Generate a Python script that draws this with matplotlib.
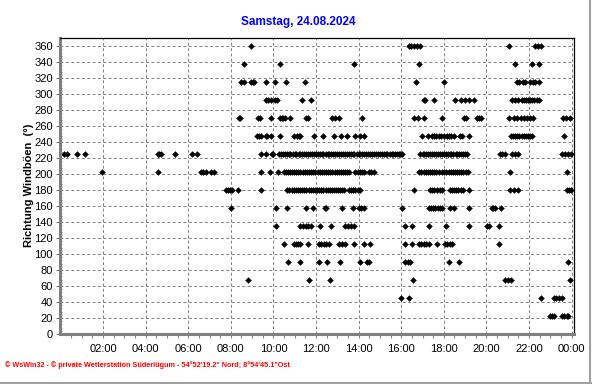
import numpy as np
import matplotlib.pyplot as plt
from matplotlib.lines import Line2D

# gust direction (deg) -> times of day (hours)
t_360 = [8.94, 16.35, 16.45, 16.6, 16.75, 16.88, 21.04, 22.29, 22.42, 22.55]
t_338 = [8.61, 10.3, 13.77, 16.82, 21.32, 22.16, 22.48]
t_315 = [8.5, 8.6, 8.95, 9.02, 9.1, 9.66, 10.07, 10.58, 11.5, 16.69, 18.02,
         21.43, 21.55, 21.7, 21.82, 22.05, 22.18, 22.3, 22.45]
t_292 = [9.63, 9.75, 9.9, 10.05, 10.15, 11.33, 11.77, 17.05, 17.13, 17.52,
         18.54, 18.8, 19.0, 19.2, 19.4, 21.2, 21.35, 21.5, 21.65, 21.75,
         21.85, 21.95, 22.05, 22.15, 22.25, 22.35, 22.45]
t_270 = [8.38, 8.45, 9.29, 9.35, 9.9, 10.3, 10.38, 10.45, 10.52, 10.8,
         11.54, 11.62, 12.76, 12.9, 13.07, 14.16, 16.58, 16.77, 17.05, 17.91,
         18.93, 19.05, 19.55, 19.65, 19.75, 21.04, 21.3, 21.45, 21.6, 21.75,
         21.9, 22.05, 22.2, 23.6, 23.75, 23.92]
t_248 = [9.24, 9.32, 9.4, 9.63, 9.72, 9.9, 10.33, 10.96, 11.1, 11.22, 11.27,
         11.89, 12.32, 12.83, 13.15, 13.46, 13.85, 14.05, 14.25, 16.97, 17.24,
         17.44, 17.55, 17.65, 17.75, 17.88, 17.99, 18.15, 18.25, 18.35, 18.46,
         18.78, 18.85, 19.16, 21.15, 21.25, 21.35, 21.45, 21.55, 21.65, 21.75,
         21.85, 21.95, 22.05, 22.13, 23.65]
t_225 = [0.17, 0.3, 0.8, 1.16, 4.58, 4.65, 4.72, 5.36, 6.19, 6.43, 9.4,
         9.64, 9.92, 10.0,
         10.25, 10.35, 10.45, 10.55, 10.62, 10.72, 10.8, 10.9, 11.0, 11.08,
         11.18, 11.27, 11.35, 11.45, 11.55, 11.62, 11.72, 11.8, 11.9, 12.0,
         12.08, 12.18, 12.27, 12.35, 12.45, 12.55, 12.62, 12.72, 12.8, 12.9,
         13.0, 13.08, 13.18, 13.27, 13.35, 13.45, 13.55, 13.62, 13.72, 13.8,
         13.9, 14.0, 14.08, 14.18, 14.27, 14.35, 14.45, 14.55, 14.62, 14.72,
         14.8, 14.9, 15.0, 15.08, 15.18, 15.27, 15.35, 15.45, 15.55, 15.62,
         15.72, 15.8, 15.88, 15.95, 16.02,
         16.9, 17.0, 17.08, 17.18, 17.27, 17.35, 17.45, 17.55, 17.62, 17.72,
         17.8, 17.9, 18.0, 18.08, 18.18, 18.27, 18.35, 18.45, 18.55, 18.62,
         18.72, 18.8, 18.9, 19.0, 19.08,
         20.65, 20.75, 20.85, 21.2, 21.35, 21.5, 23.54, 23.7, 23.85, 23.95]
t_202 = [1.97, 4.58, 6.61, 6.7, 6.85, 7.05, 7.2, 9.4, 9.86, 10.2,
         10.49, 10.58, 10.68, 10.78, 10.88, 10.97, 11.07, 11.17, 11.27, 11.37,
         11.47, 11.57, 11.67, 11.77, 11.87, 11.97, 12.07, 12.17, 12.27, 12.37,
         12.47, 12.57, 12.67, 12.77, 12.87, 12.97, 13.07, 13.17, 13.27, 13.37,
         13.47, 13.57, 13.85, 13.95, 14.05, 14.17, 14.27, 14.47, 14.6, 14.72,
         16.84, 16.95, 17.05, 17.15, 17.25, 17.35, 17.45, 17.55, 17.65, 17.75,
         17.92, 18.02, 18.12, 18.22, 18.32, 18.42, 18.52, 18.62, 18.72, 18.82,
         18.92, 19.02, 19.14, 21.11, 23.77]
t_180 = [7.79, 7.88, 7.96, 8.05, 8.33, 9.4,
         10.65, 10.75, 10.85, 10.95, 11.05, 11.15, 11.25, 11.35, 11.45, 11.55,
         11.65, 11.75, 11.85, 11.95, 12.05, 12.15, 12.25, 12.35, 12.45, 12.55,
         12.65, 12.75, 12.85, 12.95, 13.05, 13.14, 13.22, 13.3, 13.53, 13.65,
         13.75, 13.85, 13.95, 14.05, 16.61, 17.33, 17.45, 17.55, 17.68, 17.8,
         17.92, 18.27, 18.37, 18.47, 18.57, 18.67, 18.8, 18.92, 19.2,
         21.11, 21.3, 21.5, 23.77, 23.88, 23.98]
t_158 = [7.99, 10.13, 10.66, 11.55, 11.87, 12.4, 12.48, 13.23, 13.74, 14.0,
         14.12, 14.24, 16.04, 17.29, 17.4, 17.5, 17.6, 17.72, 17.84, 17.91,
         18.27, 18.5, 19.16, 20.25, 20.33, 20.41, 20.69]
t_135 = [10.13, 11.27, 11.4, 11.52, 11.64, 11.74, 12.2, 12.68, 13.38, 13.5,
         13.62, 13.77, 16.16, 16.51, 17.29, 18.12, 19.16, 20.02, 20.1, 20.61]
t_112 = [10.49, 10.96, 11.05, 11.14, 11.27, 11.61, 12.13, 12.25, 12.37,
         12.48, 12.6, 13.07, 13.2, 13.38, 13.8, 14.24, 14.55, 16.16, 16.51,
         16.82, 16.95, 17.05, 17.15, 17.29, 17.68, 18.07, 18.17, 18.27, 18.38,
         20.57]
t_090 = [10.69, 11.24, 12.13, 12.52, 13.11, 14.08, 14.4, 14.5, 16.19, 16.3,
         16.43, 18.22, 18.69, 23.85]
t_068 = [8.82, 11.66, 12.65, 16.55, 20.88, 21.0, 21.15, 23.9]
t_045 = [15.99, 16.38, 22.55, 23.15, 23.27, 23.42, 23.55]
t_022 = [22.99, 23.07, 23.15, 23.54, 23.65, 23.76, 23.85]

directions = [360, 337.5, 315, 292.5, 270, 247.5, 225, 202.5, 180, 157.5,
              135, 112.5, 90, 67.5, 45, 22.5]
times = [t_360, t_338, t_315, t_292, t_270, t_248, t_225, t_202, t_180, t_158,
         t_135, t_112, t_090, t_068, t_045, t_022]

hour_ticks = [2, 4, 6, 8, 10, 12, 14, 16, 18, 20, 22, 24]
hour_labels = ["02:00", "04:00", "06:00", "08:00", "10:00", "12:00",
               "14:00", "16:00", "18:00", "20:00", "22:00", "00:00"]
deg_ticks = list(range(0, 361, 20))

plt.rcParams['font.family'] = ['Liberation Sans', 'DejaVu Sans']

fig = plt.figure(figsize=(5.92, 3.84), dpi=100)
ax = fig.add_axes([60 / 592, 1 - 334 / 384, 514 / 592, 296.5 / 384])

for d, ts in zip(directions, times):
    ax.plot(ts, [d] * len(ts), linestyle='none', marker='D', markersize=3.0,
            color='black', markeredgewidth=0.3)

ax.set_xlim(-0.02, 24.11)
ax.set_ylim(0, 371)

ax.set_xticks(hour_ticks)
ax.set_xticklabels(hour_labels, fontsize=8)
ax.set_xticks(np.arange(0.5, 24.1, 0.5), minor=True)
ax.set_yticks(deg_ticks)
ax.set_yticklabels([str(v) for v in deg_ticks], fontsize=8)
ax.set_yticks(np.arange(0, 361, 4), minor=True)

ax.tick_params(axis='x', which='major', direction='out', length=3,
               width=0.8, color='#808080', pad=4)
ax.tick_params(axis='x', which='minor', direction='out', length=3,
               width=0.8, color='#808080')
ax.tick_params(axis='y', which='major', direction='out', length=3,
               width=0.8, color='#808080', pad=2)
ax.tick_params(axis='y', which='minor', direction='in', length=1.5,
               width=0.6, color='#808080')

ax.grid(True, which='major', color='#808080', linestyle=(0, (3, 2.5)),
        linewidth=0.7)

for side in ['left', 'bottom']:
    ax.spines[side].set_color('#808080')
    ax.spines[side].set_linewidth(2.2)
for side in ['top', 'right']:
    ax.spines[side].set_color('black')
    ax.spines[side].set_linewidth(0.9)

ax.set_ylabel("Richtung Windböen  (°)", fontsize=8, fontweight='bold',
              labelpad=0.5)

fig.text(298 / 592, 1 - 22 / 384, "Samstag, 24.08.2024", color='#0000ff',
         fontsize=8.5, fontweight='bold', ha='center', va='center')
fig.text(5 / 592, 1 - 365 / 384,
         "© WsWin32 - © private Wetterstation Süderlügum - 54°52'19.2\" Nord; 8°54'45.1\"Ost",
         color='red', fontsize=5.2, fontweight='bold', ha='left', va='center')

# gray frame at the right and bottom edge of the image
fig.add_artist(Line2D([589.5 / 592, 589.5 / 592], [0, 1], color='#a0a0a0',
                      linewidth=1.5, transform=fig.transFigure))
fig.add_artist(Line2D([0, 1], [1.5 / 384, 1.5 / 384], color='#a0a0a0',
                      linewidth=1.5, transform=fig.transFigure))

fig.savefig("out.png", dpi=100)
